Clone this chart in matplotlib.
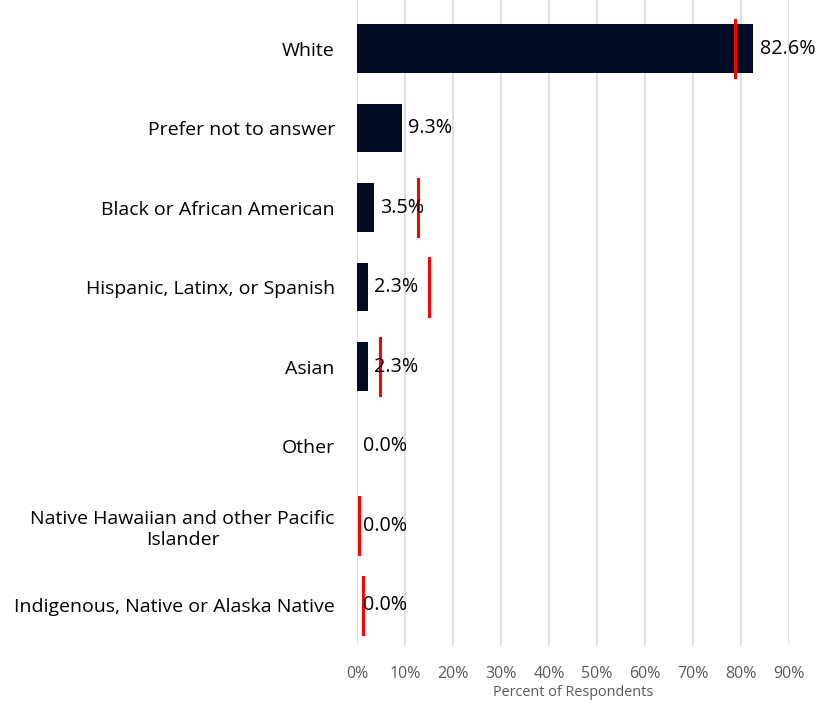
import matplotlib
matplotlib.use("Agg")
import matplotlib.pyplot as plt

categories = ["White", "Prefer not to answer", "Black or African American",
              "Hispanic, Latinx, or Spanish", "Asian", "Other",
              "Native Hawaiian and other Pacific\nIslander",
              "Indigenous, Native or Alaska Native"]
values = [82.6, 9.3, 3.5, 2.3, 2.3, 0.0, 0.0, 0.0]
benchmarks = [78.8, None, 12.7, 15.0, 4.8, None, 0.4, 1.2]
xticks = [0, 10, 20, 30, 40, 50, 60, 70, 80, 90]

plt.rcParams['font.family'] = ['Open Sans', 'DejaVu Sans']

fig = plt.figure(figsize=(8.17, 7.03), dpi=100)
ax = fig.add_axes([357/817, 1-645/703, (789-357)/817, 645/703])

ypos = list(range(len(categories)))
ax.barh(ypos, values, height=0.61, color="#000c24", zorder=3)
for y, b in zip(ypos, benchmarks):
    if b is not None:
        ax.plot([b, b], [y-0.36, y+0.36], color="#ff0000", lw=2.2, zorder=4)
for y, v in zip(ypos, values):
    ax.text(v + 1.3, y, f"{v:.1f}%", va="center", ha="left", fontsize=14.2, color="black", zorder=5)

ax.set_xlim(0, 90)
ax.set_ylim(7.5, -0.61)
ax.set_yticks(ypos)
ax.set_yticklabels(categories, fontsize=14, ha="right")
ax.set_xticks(xticks)
ax.set_xticklabels([f"{t}%" for t in xticks], fontsize=11.5, color="#595959")
ax.tick_params(axis="both", length=0)
ax.tick_params(axis="x", pad=15)
ax.tick_params(axis="y", pad=16)
for lbl in ax.get_yticklabels():
    lbl.set_multialignment("center")
ax.xaxis.grid(True, color="#d9d9d9", lw=1.2, zorder=0)
for s in ax.spines.values():
    s.set_visible(False)
ax.set_xlabel("Percent of Respondents", fontsize=10.4, color="#595959", labelpad=2)

fig.savefig("out.png", dpi=100)
